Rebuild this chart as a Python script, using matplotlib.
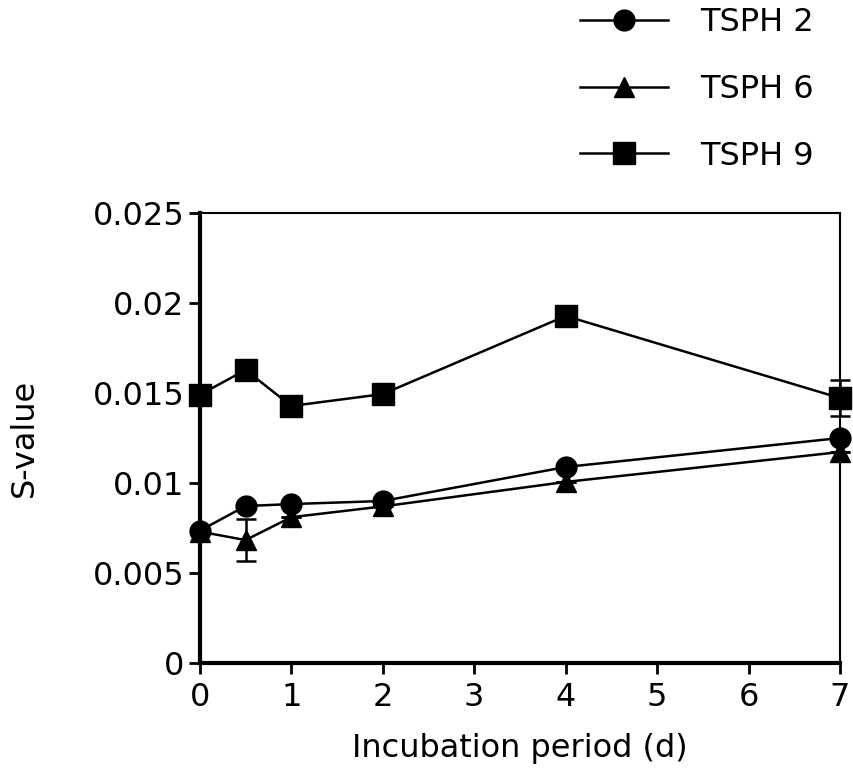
import matplotlib.pyplot as plt
from matplotlib.lines import Line2D

days = [0, 0.5, 1, 2, 4, 7]
tsph2 = [0.00735, 0.00872, 0.00883, 0.0090, 0.01089, 0.0125]
tsph6 = [0.0073, 0.00683, 0.0081, 0.0087, 0.01006, 0.01172]
tsph9 = [0.0149, 0.01628, 0.01428, 0.01494, 0.01928, 0.01472]
err2 = [0, 0, 0, 0, 0, 0]
err6 = [0, 0.00116, 0, 0, 0, 0]
err9 = [0, 0, 0, 0, 0, 0.001]

plt.rcParams['font.family'] = 'DejaVu Sans'

fig = plt.figure(figsize=(8.54, 7.74), dpi=100)
ax = fig.add_axes([0.234, 0.1434, 0.7496, 0.5814])

series = [('TSPH 2', tsph2, err2, 'o', 15),
          ('TSPH 6', tsph6, err6, '^', 15),
          ('TSPH 9', tsph9, err9, 's', 16)]
handles = []
for name, vals, err, mk, ms in series:
    ax.errorbar(days, vals, yerr=err, color='black', lw=1.8, marker=mk, ms=ms,
                mfc='black', mec='black', capsize=7, elinewidth=1.8, capthick=1.8,
                clip_on=False, zorder=3)
    handles.append(Line2D([], [], color='black', lw=1.8, marker=mk, ms=ms,
                          mfc='black', mec='black', label=name))

ax.set_xlim(0, 7)
ax.set_ylim(0, 0.025)
ax.set_xticks(range(8))
ax.set_yticks([0, 0.005, 0.01, 0.015, 0.02, 0.025])
ax.set_yticklabels(['0', '0.005', '0.01', '0.015', '0.02', '0.025'])
ax.tick_params(direction='out', length=8, width=2, labelsize=23, pad=3)
ax.tick_params(axis='x', pad=6)
for s in ['left', 'bottom']:
    ax.spines[s].set_linewidth(3)
for s in ['top', 'right']:
    ax.spines[s].set_linewidth(1.5)

ax.set_xlabel('Incubation period (d)', fontsize=23, labelpad=14)
ax.set_ylabel('S-value', fontsize=23, labelpad=38)

fig.legend(handles=handles, loc='upper left', bbox_to_anchor=(0.679, 0.991),
           frameon=False, fontsize=23, handlelength=2.75, handletextpad=1.0,
           labelspacing=1.12, borderpad=0, borderaxespad=0)

fig.savefig('out.png', dpi=100)
